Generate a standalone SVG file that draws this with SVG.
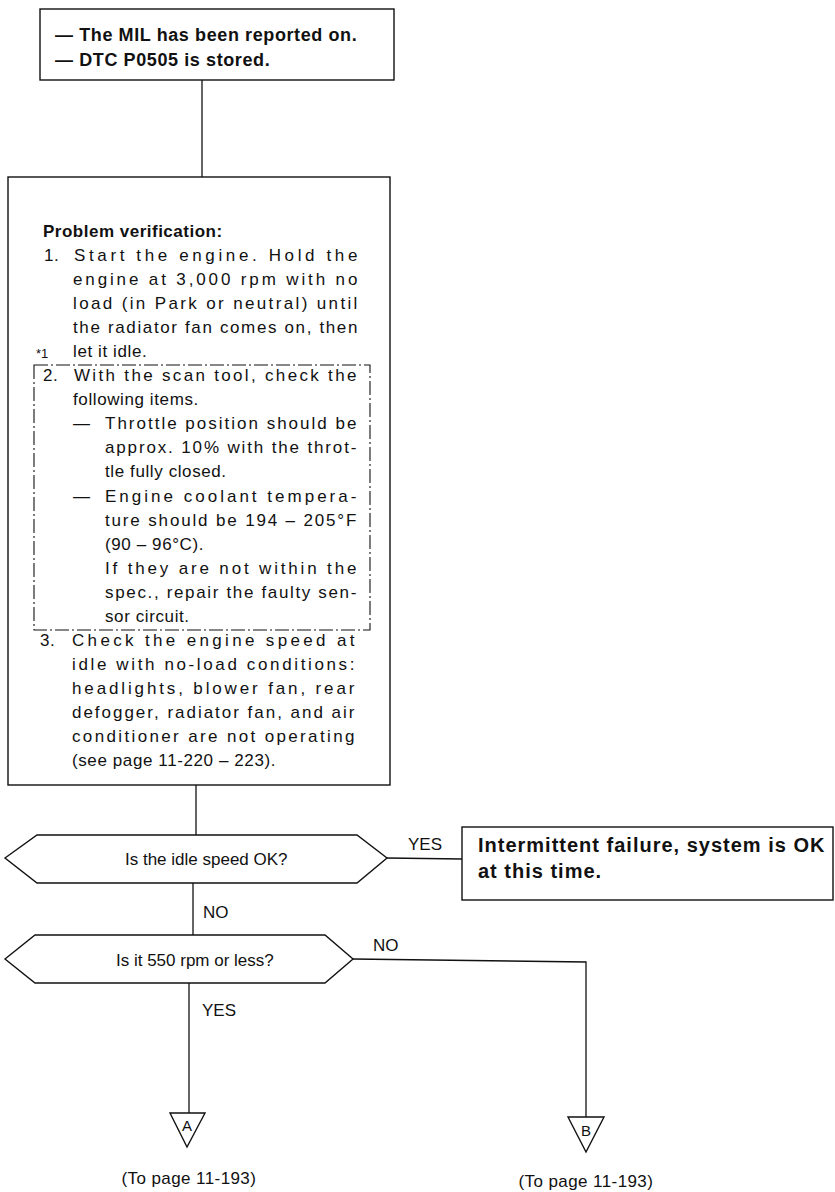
<svg xmlns="http://www.w3.org/2000/svg" width="835" height="1192" viewBox="0 0 835 1192">
<style>
  .box { fill: #fff; stroke: #111; stroke-width: 1.4; }
  .ln { fill: none; stroke: #111; stroke-width: 1.3; }
  .dash { fill: none; stroke: #111; stroke-width: 1.1; stroke-dasharray: 14 3 2 3; }
  text { font-family: "Liberation Sans", Arial, Helvetica, sans-serif; fill: #111; }
  .t { font-size: 17px; letter-spacing: 0.6px; }
  .b { font-size: 18px; font-weight: bold; letter-spacing: 0.6px; }
  .bb { font-size: 20px; font-weight: bold; letter-spacing: 1px; }
  .pb { font-size: 17px; font-weight: bold; letter-spacing: 0.5px; }
  .s { font-size: 13px; }
  .lab { font-size: 17px; }
  .tri { font-size: 15px; text-anchor: middle; }
</style>
<rect width="835" height="1192" fill="#fff"/>

<g id="connectors">
  <path class="ln" d="M202,80 V177"/>
  <path class="ln" d="M196,785 V835"/>
  <path class="ln" d="M193,883 V935"/>
  <path class="ln" d="M189,983 V1113"/>
  <path class="ln" d="M387,858 L462,859"/>
  <path class="ln" d="M353,959 L586,962 V1117"/>
  <text class="lab" x="408" y="850">YES</text>
  <text class="lab" x="203" y="918">NO</text>
  <text class="lab" x="373" y="951">NO</text>
  <text class="lab" x="202" y="1016">YES</text>
</g>

<g id="start">
  <rect class="box" x="40" y="9" width="354" height="71"/>
  <text class="b" x="55" y="41">— The MIL has been reported on.</text>
  <text class="b" x="55" y="66">— DTC P0505 is stored.</text>
</g>

<g id="verification">
  <rect class="box" x="8" y="177" width="382" height="608"/>
  <rect class="dash" x="34" y="365" width="336" height="265"/>
  <text class="pb" x="43" y="237">Problem verification:</text>
  <text class="t" x="44" y="261">1.</text>
  <text class="t" x="74" y="261" textLength="284" lengthAdjust="spacing">Start the engine. Hold the</text>
  <text class="t" x="73" y="285" textLength="285" lengthAdjust="spacing">engine at 3,000 rpm with no</text>
  <text class="t" x="73" y="309" textLength="285" lengthAdjust="spacing">load (in Park or neutral) until</text>
  <text class="t" x="73" y="333" textLength="285" lengthAdjust="spacing">the radiator fan comes on, then</text>
  <text class="s" x="36" y="358">*1</text>
  <text class="t" x="73" y="357">let it idle.</text>
  <text class="t" x="43" y="381">2.</text>
  <text class="t" x="74" y="381" textLength="283" lengthAdjust="spacing">With the scan tool, check the</text>
  <text class="t" x="73" y="405">following items.</text>
  <text class="t" x="73" y="429">—</text>
  <text class="t" x="105" y="429" textLength="252" lengthAdjust="spacing">Throttle position should be</text>
  <text class="t" x="105" y="453" textLength="252" lengthAdjust="spacing">approx. 10% with the throt-</text>
  <text class="t" x="105" y="477">tle fully closed.</text>
  <text class="t" x="73" y="502">—</text>
  <text class="t" x="105" y="502" textLength="252" lengthAdjust="spacing">Engine coolant tempera-</text>
  <text class="t" x="105" y="526" textLength="252" lengthAdjust="spacing">ture should be 194 – 205°F</text>
  <text class="t" x="105" y="550">(90 – 96°C).</text>
  <text class="t" x="105" y="574" textLength="252" lengthAdjust="spacing">If they are not within the</text>
  <text class="t" x="105" y="598" textLength="252" lengthAdjust="spacing">spec., repair the faulty sen-</text>
  <text class="t" x="105" y="622">sor circuit.</text>
  <text class="t" x="40" y="646">3.</text>
  <text class="t" x="72" y="646" textLength="283" lengthAdjust="spacing">Check the engine speed at</text>
  <text class="t" x="72" y="670" textLength="283" lengthAdjust="spacing">idle with no-load conditions:</text>
  <text class="t" x="72" y="694" textLength="283" lengthAdjust="spacing">headlights, blower fan, rear</text>
  <text class="t" x="72" y="718" textLength="283" lengthAdjust="spacing">defogger, radiator fan, and air</text>
  <text class="t" x="72" y="742" textLength="283" lengthAdjust="spacing">conditioner are not operating</text>
  <text class="t" x="72" y="766">(see page 11-220 – 223).</text>
</g>

<g id="q-idle">
  <polygon class="box" points="5,858 37,835 357,835 387,858 357,883 37,883"/>
  <text class="t" x="125" y="865" style="letter-spacing:0">Is the idle speed OK?</text>
</g>

<g id="result-ok">
  <rect class="box" x="462" y="827" width="371" height="73"/>
  <text class="bb" x="478" y="852">Intermittent failure, system is OK</text>
  <text class="bb" x="478" y="878">at this time.</text>
</g>

<g id="q-550">
  <polygon class="box" points="5,959 35,935 325,935 353,959 325,983 35,983"/>
  <text class="t" x="116" y="966" style="letter-spacing:0">Is it 550 rpm or less?</text>
</g>

<g id="to-a">
  <polygon class="box" points="170,1113 205,1113 187,1147"/>
  <text class="tri" x="187" y="1131">A</text>
  <text class="t" x="189" y="1184" text-anchor="middle" textLength="135" lengthAdjust="spacing">(To page 11-193)</text>
</g>

<g id="to-b">
  <polygon class="box" points="568,1117 604,1117 586,1152"/>
  <text class="tri" x="586" y="1136">B</text>
  <text class="t" x="586" y="1187" text-anchor="middle" textLength="135" lengthAdjust="spacing">(To page 11-193)</text>
</g>
</svg>
